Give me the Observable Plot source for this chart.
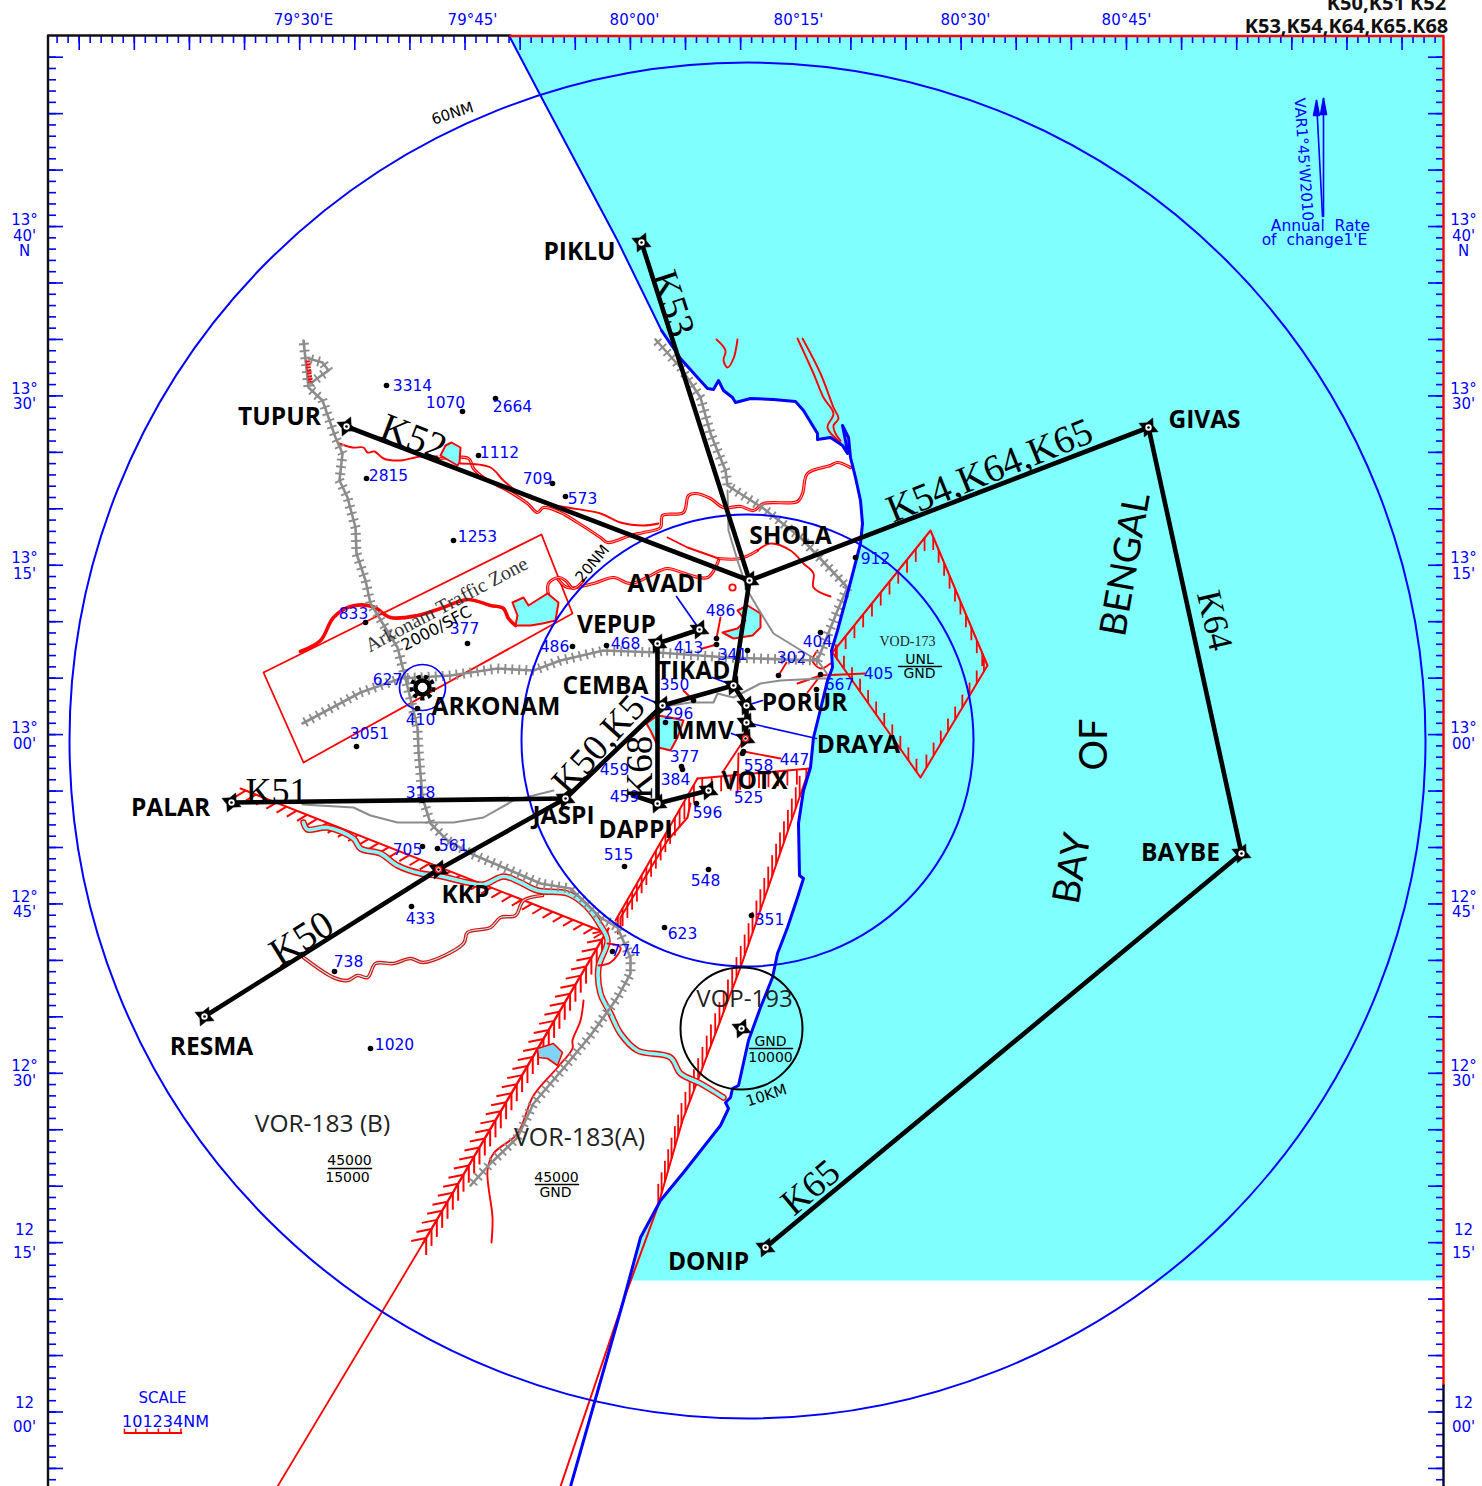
<!DOCTYPE html>
<html><head><meta charset="utf-8">
<script src="https://cdn.jsdelivr.net/npm/d3@7"></script>
<script src="https://cdn.jsdelivr.net/npm/@observablehq/plot@0.6"></script>
<style>html,body{margin:0;padding:0;background:#fff;overflow:hidden}svg{display:block}</style>
</head><body><div id="c"></div><script>
const coastNorth=[[509,36],[540,95],[617,240],[661,330]];
const coast=[[661,330],[680,358],[697,377],[707,388],[713,389],[718,380],[723,390],[732,397],[735,402],[750,398],[773,399],[795,401],[803,410],[817,433],[817,439],[830,437],[842,445],[847,453],[845,440],[842,425],[848,437],[850,457],[855,477],[860,500],[862,523],[860,543],[853,570],[847,593],[837,630],[831,650],[832,667],[827,680],[818,717],[813,737],[810,767],[803,790],[798,823],[799,875],[803,878],[797,897],[787,927],[777,953],[772,977],[760,1007],[748,1040],[742,1067],[738,1085],[732,1088],[730,1097],[725,1102],[728,1108],[720,1125],[683,1172],[660,1200],[640,1237],[623,1300],[570,1486]];
const seaCorners=[[1443,36],[1443,1280],[628,1280]];
const tmaCentre=[[747,740]];
const tmaRadii=[678,226];

const topMajor=d3.range(0,25).map(i=>78.7+55.12*i);
const topMinor=d3.range(0,126).map(i=>56.6+11.024*i).filter(v=>v<1440);
const sideMajor=d3.range(0,26).map(i=>56.7+56.45*i);
const sideMinor=d3.range(0,128).map(i=>45.4+11.29*i).filter(v=>v>46);
const lonLabels=[["79°30'E",303],["79°45'",472],["80°00'",634],["80°15'",798],["80°30'",965],["80°45'",1126]];
const latLabels=[["13°",220],["40'",236],["N",251],["13°",389],["30'",404],["13°",558],["15'",574],["13°",728],["00'",744],["12°",897],["45'",912],["12°",1066],["30'",1081],["12",1230],["15'",1253],["12",1403],["00'",1427]];

const airways=[
 [[641,242],[749,580]],[[346,426],[749,580]],[[1148,427],[749,580]],[[1148,427],[1241,853]],[[1241,853],[765,1247]],
 [[204,1016],[438,869],[565,798],[662,705]],[[231,802],[565,798]],[[657,643],[657,803]],[[657,643],[699,629]],
 [[662,705],[733,685],[749,580]],[[733,685],[746,705],[746,722],[745,738]],[[657,803],[708,790]],[[633,795],[657,803]]];
const fixes=[[641,242],[346,426],[1148,427],[1241,853],[765,1247],[204,1016],[438,869],[565,798],[231,802],[657,643],[699,629],[657,803],[708,790],[662,705],[733,685],[746,705],[746,722],[745,738],[749,580],[741,1028]];
const fixNames=[["PIKLU",579,252],["TUPUR",279,417],["GIVAS",1204,420],["BAYBE",1180,853],["DONIP",708,1262],["RESMA",211,1047],["PALAR",170,808],["KKP",465,895],["JASPI",563,816],["DAPPI",635,830],["VOTX",754,781],["MMV",702,731],["DRAYA",858,745],["PORUR",804,703],["TIKAD",693,671],["CEMBA",605,686],["VEPUP",616,625],["AVADI",665,584],["SHOLA",790,536],["ARKONAM",495.5,707]];
const routeNames=[["K53",672,303,72,39],["K52",413,437,21,39],["K54,K64,K65",989,470,-22,38.5],["K64",1214,620,77,35],["K65",810,1187,-40,37],["K50",301,938,-32,39],["K51",276,791,0,36],["K50,K5",598,744,-48,37],["K68",640,767,-90,37]];

const spotLabels=[["3314",412,386],["1070",445,403],["2664",512,407],["1112",499,453],["709",537,479],["573",582,499],["2815",388,476],["1253",477,537],["833",353,614],["377",464,629],["486",554,647],["468",625,644],["486",720,611],["413",688,648],["341",732,655],["404",817,642],["302",791,658],["912",875,559],["405",878,674],["667",839,685],["627",387,680],["410",420,720],["3051",369,734],["350",674,685],["296",678,714],["377",684,757],["384",675,780],["459",614,770],["459",624,797],["558",758,766],["447",794,760],["525",748,798],["596",707,813],["318",420,793],["705",407,850],["561",453,846],["515",618,855],["548",705,881],["433",420,919],["351",769,920],["623",682,934],["774",625,951],["738",348,962],["1020",394,1045]];
const spotDots=[[386,385],[462,411],[495,398],[478,455],[552,483],[565,496],[366,478],[453,540],[365,622],[467,643],[572,646],[606,645],[716,638],[716,644],[747,650],[820,632],[778,675],[855,557],[820,674],[816,689],[417,708],[356,746],[693,700],[665,722],[681,766],[682,769],[633,795],[742,753],[743,751],[696,803],[422,800],[422,846],[437,848],[624,866],[708,869],[411,906],[751,915],[664,927],[612,951],[334,971],[370,1048]];

const railNorth=[[303,340],[308,387],[322,400],[335,437],[342,453],[339,480],[347,497],[355,527],[356,553],[365,580],[370,603],[397,647],[403,670],[417,727],[418,750],[422,797],[430,823],[447,840],[470,853],[510,870],[540,883],[570,888],[600,917],[617,927],[630,957],[630,973],[617,997],[590,1035],[567,1063],[533,1103],[517,1137],[490,1163],[470,1185]];
const railLoop=[[308,358],[322,362],[328,370],[318,377],[310,383]];
const railWest=[[302,723],[360,692],[400,678],[450,675],[497,668],[533,670],[560,660],[603,650],[657,652],[727,657],[817,660]];
const railEast=[[655,339],[680,367],[700,397],[710,433],[725,470],[727,485],[763,508],[800,537],[847,587],[837,610],[817,660]];
const roadA=[[727,490],[728,530],[737,560],[747,590],[757,607],[773,633],[817,660],[830,678],[820,678],[780,680],[760,683],[733,697],[717,693],[713,702],[690,702],[670,705]];
const roadB=[[302,804],[353,807],[370,815],[397,822],[453,822],[483,817],[513,800],[553,790]];

const singleRed=[
 [[339,443],[352,447],[363,447],[367,452],[374,451],[383,458],[400,460],[420,456],[437,456]],
 [[716,339],[725,350],[723,360],[727,367],[733,358],[737,339]],
 [[797,338],[813,373],[823,397],[833,413],[827,427],[840,442]],
 [[802,338],[820,373],[833,407],[838,418],[833,425],[835,433],[840,440]],
 [[583,1000],[580,1020],[572,1040],[572,1048],[557,1067],[533,1095],[517,1133],[493,1153],[487,1170],[492,1217],[491,1242]],
 [[607,943],[620,947],[610,962],[598,965]],
 [[460,463],[490,467],[503,480],[520,493],[545,503],[567,507],[600,513],[620,522],[643,525],[658,523]],
 [[667,537],[687,547],[718,558]],
 [[757,550],[770,543],[790,550],[803,563],[813,573],[813,587],[830,596]],
 [[702,648],[716,644]],[[720,617],[716,638]],[[786,662],[778,675]],[[865,673],[819,675]],[[683,690],[693,700]],[[780,758],[743,751]],
 [[797,683],[820,675],[807,692]],[[722,772],[743,740]],[[737,792],[738,753]],
 [[817,650],[812,660],[820,668],[830,663]]];
const doubleRed=[
 [[440,458],[468,458],[473,468],[483,477],[497,485],[507,490],[527,503],[537,512],[543,507],[560,512],[577,522],[600,537],[607,542],[630,535],[643,532],[660,527],[662,515],[683,512],[688,495],[695,493],[710,498],[723,507],[740,506],[753,510],[763,503],[797,501],[802,493],[807,473],[830,465],[837,462],[850,467]],
 [[718,558],[740,558],[757,550]],
 [[557,578],[567,587],[593,583],[613,577],[630,583],[660,570],[667,568],[707,577],[718,560]],
 [[548,595],[548,583],[558,577],[565,580],[573,588],[583,580]]];
const thickRed=[[300,651],[320,640],[333,617],[350,606],[372,606],[390,617],[417,615],[440,608],[467,599],[490,605],[503,608],[508,618],[515,625]];
const bandRiver=[[303,822],[307,829],[327,827],[353,838],[360,848],[380,853],[397,865],[420,873],[437,875],[467,882],[483,884],[503,876],[520,882],[537,890],[567,893],[585,905],[600,925],[607,940],[598,967],[600,993],[610,1013],[620,1033],[637,1050],[670,1057],[680,1073],[700,1083],[723,1097]];
const thinRiver=[[303,957],[333,977],[347,980],[357,975],[367,977],[375,963],[393,963],[410,958],[423,962],[463,943],[467,932],[490,927],[500,917],[515,915],[523,900],[542,895]];
const lakes=[
 [[440,455],[445,445],[451,442],[460,447],[459,462],[457,465]],
 [[512,602],[523,597],[528,605],[547,593],[558,602],[555,620],[542,623],[530,625],[515,625],[517,615]],
 [[722,632],[737,628],[745,620],[737,610],[747,605],[760,613],[760,627],[752,635],[733,638]],
 [[646,723],[657,715],[670,717],[683,720],[677,737],[670,750],[658,747],[650,730]]];
const tankSouth=[[537,1048],[553,1043],[562,1052],[557,1065],[547,1058],[538,1057]];

const trafficZone=[[263,672],[541,534],[572,613],[303,762],[263,672]];
const vod173=[[832,652],[930,530],[987,665],[920,777],[832,652]];
const corridorHerring=[[423,1242],[608,928]];
const corridorTail=[[423,1242],[277,1486]];
const corridorWest=[[240,788],[607,933]];
const corridorNorthLeft=[[615,920],[697,778]];
const corridorNorthRight=[[620,927],[620,917],[667,840],[687,817],[690,803]];
const corridorBar=[[697,778],[809,768]];
const corridorEast=[[809,768],[740,967],[682,1120],[657,1207],[623,1300],[560,1486]];
const blueLeaders=[[[676,596],[699,629]],[[712,677],[733,685]],[[641,696],[662,705]],[[762,700],[746,705]],[[816,738],[746,722]],[[731,733],[745,738]]];

function along(pts,step,fn){
  const out=[];let next=step/2;
  for(let i=0;i<pts.length-1;i++){
    const a=pts[i],b=pts[i+1],L=Math.hypot(b[0]-a[0],b[1]-a[1]);if(!L)continue;
    const ux=(b[0]-a[0])/L,uy=(b[1]-a[1])/L;
    while(next<L){out.push(...fn(a[0]+ux*next,a[1]+uy*next,ux,uy));next+=step;}
    next-=L;
  }
  return out;
}
const seg=(x1,y1,x2,y2)=>({x1,y1,x2,y2});
const sleepers=(pts,step=7,h=5)=>along(pts,step,(x,y,ux,uy)=>[seg(x-uy*h,y+ux*h,x+uy*h,y-ux*h)]);
const barbs=(pts,step,dx,dy)=>along(pts,step,(x,y)=>[seg(x,y,x+dx,y+dy)]);
const links=(rows,o)=>Plot.link(rows,{x1:"x1",y1:"y1",x2:"x2",y2:"y2",...o});

const RED="#f00",BLUE="#00f",SEA="#80ffff",GREY="#8c8c8c";
const diaDown=[vod173.slice(0,2),vod173.slice(1,3)];
const diaUp=[vod173.slice(2,4),vod173.slice(3,5)];

const fixSymbol={draw(c){const R=10.5,r=5,a0=0.42;for(let i=0;i<8;i++){const a=a0+i*Math.PI/4,q=i%2?r:R,x=q*Math.cos(a),y=q*Math.sin(a);i?c.lineTo(x,y):c.moveTo(x,y);}c.closePath();}};
const line=(d,o)=>Plot.line(d,{strokeLinejoin:"round",strokeLinecap:"round",...o});
const sans="'Open Sans'",cad="'DejaVu Sans'",serif="'Liberation Serif'";
const note=(d,o)=>Plot.text(d,{x:d=>d[1],y:d=>d[2],text:d=>d[0],...o});
const label=(t,x,y,o)=>Plot.text([[t,x,y]],{x:d=>d[1],y:d=>d[2],text:d=>d[0],...o});

const sea=[...coastNorth,...coast.slice(1).filter(p=>p[1]<=1280),seaCorners[2],seaCorners[1],seaCorners[0],coastNorth[0]];

const all=[
 Plot.line(sea,{fill:SEA,stroke:"none"}),
 // hatched limits
 ...diaDown.map(e=>links(barbs(e,14,0,13),{stroke:RED,strokeWidth:1.8})),
 ...diaUp.map(e=>links(barbs(e,14,0,-13),{stroke:RED,strokeWidth:1.8})),
 line(vod173,{stroke:RED,strokeWidth:2}),
 line(trafficZone,{stroke:RED,strokeWidth:1.8}),
 line(corridorHerring,{stroke:RED,strokeWidth:2.4}),
 line(corridorTail,{stroke:RED,strokeWidth:1.8}),
 links(barbs(corridorHerring,10.5,-15,3),{stroke:RED,strokeWidth:2}),
 links(barbs(corridorHerring,10.5,0,17),{stroke:RED,strokeWidth:2}),
 line(corridorWest,{stroke:RED,strokeWidth:2}),
 links(barbs(corridorWest,11,-10,6),{stroke:RED,strokeWidth:2}),
 line(corridorNorthLeft,{stroke:RED,strokeWidth:2}),
 line(corridorNorthRight,{stroke:RED,strokeWidth:2}),
 links(barbs(corridorNorthLeft,9.5,0,18),{stroke:RED,strokeWidth:1.8}),
 line(corridorBar,{stroke:RED,strokeWidth:2}),
 links(barbs(corridorBar,9.5,0,15),{stroke:RED,strokeWidth:1.8}),
 line(corridorEast,{stroke:RED,strokeWidth:2}),
 links(barbs(corridorEast.slice(0,4),12,0,-21).filter(d=>d.y1>790&&d.y1<1225),{stroke:RED,strokeWidth:1.8}),
 // rivers and water
 line(bandRiver,{stroke:RED,strokeWidth:6.5,curve:"catmull-rom"}),
 line(bandRiver,{stroke:SEA,strokeWidth:3.6,curve:"catmull-rom"}),
 line(thinRiver,{stroke:RED,strokeWidth:3.6,curve:"catmull-rom"}),
 line(thinRiver,{stroke:SEA,strokeWidth:1.2,curve:"catmull-rom"}),
 ...doubleRed.flatMap(r=>[line(r,{stroke:RED,strokeWidth:3.2,curve:"catmull-rom"}),line(r,{stroke:"#fff",strokeWidth:.7,curve:"catmull-rom"})]),
 ...singleRed.map(r=>line(r,{stroke:RED,strokeWidth:1.9,curve:r.length>3?"catmull-rom":"linear"})),
 line(thickRed,{stroke:RED,strokeWidth:3.6,curve:"catmull-rom"}),
 ...lakes.map(l=>Plot.line([...l,l[0]],{fill:SEA,stroke:RED,strokeWidth:2})),
 Plot.line([...tankSouth,tankSouth[0]],{fill:"#7fd4f4",stroke:RED,strokeWidth:1.6}),
 // railways and roads
 line(roadA,{stroke:GREY,strokeWidth:2}),
 line(roadB,{stroke:GREY,strokeWidth:2}),
 ...[railNorth,railWest,railEast,railLoop].flatMap(r=>[line(r,{stroke:GREY,strokeWidth:2.6}),links(sleepers(r),{stroke:GREY,strokeWidth:1.9})]),
 line([[307,360],[310,382]],{stroke:RED,strokeWidth:4.5,strokeDasharray:"2,1",strokeLinecap:"butt"}),
 // coast
 line(coastNorth,{stroke:BLUE,strokeWidth:2}),
 line(coast,{stroke:BLUE,strokeWidth:3}),
 // range rings
 ...tmaRadii.map(r=>Plot.dot(tmaCentre,{r,fill:"none",stroke:BLUE,strokeWidth:2})),
 Plot.dot([[422,687]],{r:23,fill:"none",stroke:BLUE,strokeWidth:1.7}),
 Plot.dot([[741,1028]],{r:61,fill:"none",stroke:"#000",strokeWidth:2}),
 Plot.dot([[732,587]],{r:3.2,fill:"none",stroke:RED,strokeWidth:1.8}),
 ...blueLeaders.map(l=>line(l,{stroke:BLUE,strokeWidth:1.7})),
 // frame and graticule ticks
 Plot.ruleX(topMajor,{y1:()=>35,y2:()=>50,stroke:BLUE,strokeWidth:1.6}),
 Plot.ruleX(topMinor,{y1:()=>35,y2:()=>43,stroke:BLUE,strokeWidth:1.6}),
 Plot.ruleY(sideMajor,{x1:()=>47,x2:()=>63,stroke:BLUE,strokeWidth:1.6}),
 Plot.ruleY(sideMinor,{x1:()=>47,x2:()=>56,stroke:BLUE,strokeWidth:1.6}),
 Plot.ruleY(sideMajor,{x1:()=>1443,x2:()=>1428,stroke:BLUE,strokeWidth:1.6}),
 Plot.ruleY(sideMinor,{x1:()=>1443,x2:()=>1436,stroke:BLUE,strokeWidth:1.6}),
 line([[47.5,1486],[47.5,35],[510,35]],{stroke:"#111",strokeWidth:2.4}),
 line([[510,35.5],[1443,35.5],[1443,1385]],{stroke:RED,strokeWidth:2.4}),
 line([[1443,1385],[1443,1486]],{stroke:"#003",strokeWidth:2.4}),
 // airways
 ...airways.map(a=>line(a,{stroke:"#000",strokeWidth:4.6})),
 Plot.dot(fixes,{symbol:fixSymbol,r:6,fill:"#000",stroke:"#000",strokeWidth:.5}),
 Plot.dot(fixes,{r:3.2,fill:"#fff",stroke:"none"}),
 Plot.dot(fixes,{r:1.3,fill:"#000",stroke:"none"}),
 Plot.dot([[438,869],[745,738]],{r:3,fill:"none",stroke:RED,strokeWidth:1.4}),
 // Arkonam aerodrome
 Plot.dot([[422,687]],{r:11,fill:"none",stroke:"#000",strokeWidth:4,strokeDasharray:"4.2,3.4"}),
 Plot.dot([[422,687]],{r:7,fill:"#fff",stroke:"#000",strokeWidth:4.5}),
 // spot heights
 Plot.dot(spotDots,{r:2.8,fill:"#000",stroke:"none"}),
 note(spotLabels,{fill:BLUE,fontFamily:cad,fontSize:15.5}),
 // names
 note(fixNames,{fill:"#000",fontFamily:sans,fontWeight:700,fontSize:24.5}),
 ...routeNames.map(r=>Plot.text([r],{x:d=>d[1],y:d=>d[2],text:d=>d[0],rotate:r[3],fontSize:r[4],fontFamily:serif,fill:"#000"})),
 label("BAY",1072,868,{rotate:-80,fontFamily:"Lato",fontSize:38,fill:"#000"}),
 label("OF",1094,744,{rotate:-90,fontFamily:"Lato",fontSize:38,fill:"#000"}),
 label("BENGAL",1125,564,{rotate:-80,fontFamily:"Lato",fontSize:37,fill:"#000"}),
 // edge labels
 note(lonLabels.map(d=>[d[0],d[1],20]),{fill:BLUE,fontFamily:cad,fontSize:15}),
 note(latLabels.map(d=>[d[0],24,d[1]]),{fill:BLUE,fontFamily:cad,fontSize:15}),
 note(latLabels.map(d=>[d[0],1463,d[1]]),{fill:BLUE,fontFamily:cad,fontSize:15}),
 label("K50,K51 K52",1386,3,{fontFamily:sans,fontWeight:700,fontSize:20,fill:"#111"}),
 label("K53,K54,K64,K65.K68",1346,26,{fontFamily:sans,fontWeight:700,fontSize:20,fill:"#111"}),
 // magnetic variation
 label("VAR1°45'W2010",1303,159,{rotate:86,fill:BLUE,fontFamily:cad,fontSize:15}),
 line([[1323,216],[1323,98]],{stroke:BLUE,strokeWidth:1.6}),
 line([[1322,216],[1316,100]],{stroke:BLUE,strokeWidth:1.6}),
 Plot.line([[1320,114],[1323,98],[1326,114],[1320,114]],{fill:BLUE,stroke:BLUE}),
 Plot.line([[1313,115],[1316,100],[1319,115],[1313,115]],{fill:BLUE,stroke:BLUE}),
 label("Annual  Rate",1320,226,{fill:BLUE,fontFamily:cad,fontSize:15.5}),
 label("of  change1'E",1314,240,{fill:BLUE,fontFamily:cad,fontSize:15.5}),
 // airspace notes
 label("60NM",452,113,{rotate:-18,fontFamily:cad,fontSize:15,fill:"#000"}),
 label("20NM",592,563,{rotate:-50,fontFamily:cad,fontSize:15,fill:"#000"}),
 label("10KM",766,1095,{rotate:-18,fontFamily:cad,fontSize:15,fill:"#000"}),
 label("VOP-193",744,999,{fontFamily:sans,fontSize:24,fill:"#222"}),
 label("VOR-183 (B)",322,1124,{fontFamily:sans,fontSize:24.5,fill:"#222"}),
 label("VOR-183(A)",579,1137,{fontFamily:sans,fontSize:25,fill:"#222"}),
 label("VOD-173",907,641,{fontFamily:serif,fontSize:14,fill:"#222"}),
 label("Arkonam Traffic Zone",446,604,{rotate:-28,fontFamily:serif,fontSize:20,fill:"#333"}),
 label("2000/SFC",436,628,{rotate:-28,fontFamily:cad,fontSize:16,fill:"#000"}),
 label("45000",349,1160,{fontFamily:cad,fontSize:14,fill:"#000"}),
 label("15000",347,1177,{fontFamily:cad,fontSize:14,fill:"#000"}),
 line([[328,1168],[371,1168]],{stroke:"#000",strokeWidth:1.5}),
 label("45000",556,1177,{fontFamily:cad,fontSize:14,fill:"#000"}),
 label("GND",555,1192,{fontFamily:cad,fontSize:14,fill:"#000"}),
 line([[535,1184],[578,1184]],{stroke:"#000",strokeWidth:1.5}),
 label("GND",770,1041,{fontFamily:cad,fontSize:14,fill:"#000"}),
 label("10000",770,1057,{fontFamily:cad,fontSize:14,fill:"#000"}),
 line([[749,1048],[792,1048]],{stroke:"#000",strokeWidth:1.5}),
 label("UNL",919,659,{fontFamily:cad,fontSize:14,fill:"#000"}),
 label("GND",919,673,{fontFamily:cad,fontSize:14,fill:"#000"}),
 line([[898,666],[941,666]],{stroke:"#000",strokeWidth:1.5}),
 // scale bar
 label("SCALE",162,1398,{fill:BLUE,fontFamily:cad,fontSize:15}),
 label("101234NM",165,1421,{fill:BLUE,fontFamily:cad,fontSize:16}),
 line([[124,1432.5],[181,1432.5]],{stroke:RED,strokeWidth:1.8}),
 links(barbs([[118.3,1432],[181,1432]],11.3,0,-4),{stroke:RED,strokeWidth:1.5})
];
document.getElementById("c").append(Plot.plot({
 width:1482,height:1486,margin:0,
 x:{domain:[0,1482],range:[0,1482],axis:null},
 y:{domain:[0,1486],range:[0,1486],axis:null},
 style:{background:"#fff",overflow:"hidden"},
 marks:all
}));
</script></body></html>
